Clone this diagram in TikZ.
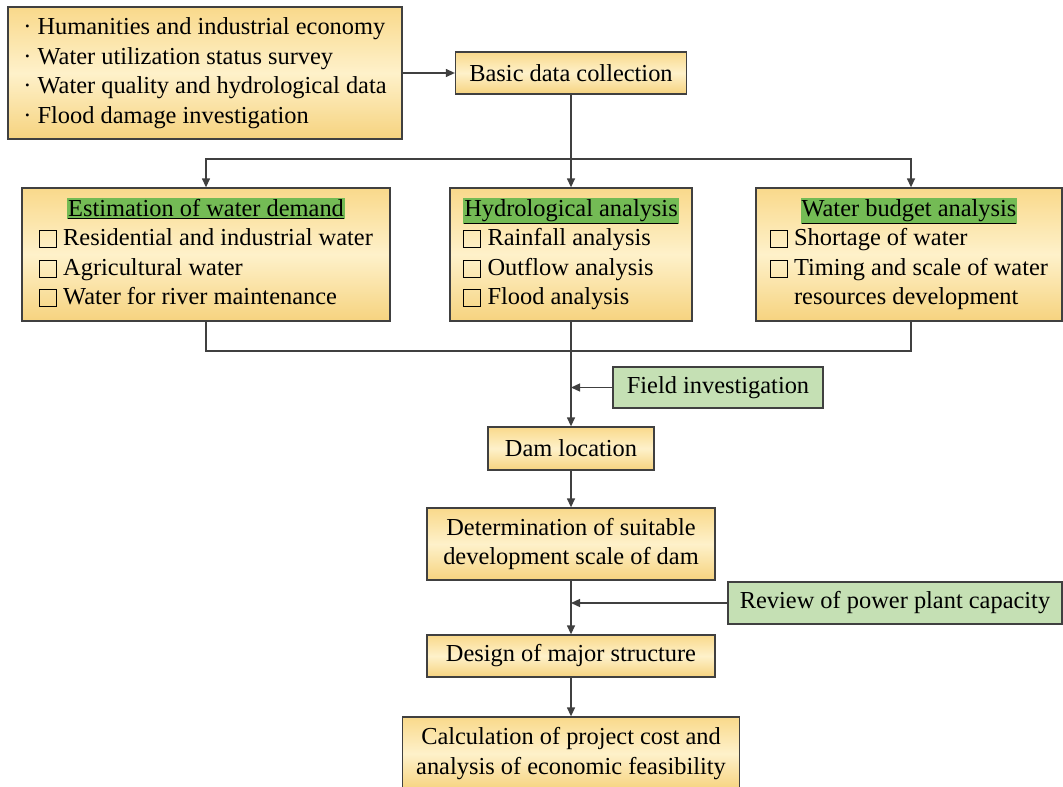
\documentclass[tikz,border=0pt]{standalone}
\usepackage{fontspec}
\setmainfont{Liberation Serif}
\usetikzlibrary{arrows.meta}
\definecolor{lncol}{HTML}{404040}
\definecolor{ytop}{HTML}{F9D98B}
\definecolor{ymid}{HTML}{FEF1CA}
\definecolor{ybot}{HTML}{F6D37F}
\definecolor{gfill}{HTML}{C5E0B4}
\definecolor{hl}{HTML}{74BB55}
\newcommand\hd[1]{{\setlength\fboxsep{0.8pt}\colorbox{hl}{\underline{#1}}}}
\newcommand\cbx{{\setlength\fboxsep{0pt}\setlength\fboxrule{1pt}\raisebox{-1.5pt}{\fbox{\rule{0pt}{16pt}\rule{16pt}{0pt}}}}}
\begin{document}
\begin{tikzpicture}[x=1pt,y=-1pt,
  txt/.style={font=\fontsize{24.4}{29.5}\selectfont, align=center, inner sep=0pt},
  box/.style={txt, draw=lncol, line width=1.3pt, top color=ytop, bottom color=ybot, middle color=ymid},
  gbox/.style={txt, draw=lncol, line width=1.3pt, fill=gfill},
  wire/.style={draw=lncol, line width=1.3pt},
  arr/.style={wire, -{Triangle[length=9pt,width=8pt]}}]
\useasboundingbox (0,0) rectangle (1063,787);
\clip (0,0) rectangle (1063,787);

\node[box, minimum width=394pt, minimum height=132pt] (src) at (205,73)
  {\begin{tabular}{@{}l@{}}· Humanities and industrial economy\\ · Water utilization status survey\\ · Water quality and hydrological data\\ · Flood damage investigation\end{tabular}};
\node[box, minimum width=231pt, minimum height=42pt] (basic) at (571,73) {Basic data collection};

\node[box, minimum width=368pt, minimum height=133pt] (est) at (206,254.5)
  {\begin{tabular}{@{}l@{}}\multicolumn{1}{@{}c@{}}{\hd{Estimation of water demand}}\\ \cbx\ Residential and industrial water\\ \cbx\ Agricultural water\\ \cbx\ Water for river maintenance\end{tabular}};
\node[box, minimum width=242pt, minimum height=133pt] (hyd) at (571,254.5)
  {\begin{tabular}{@{}l@{}}\multicolumn{1}{@{}c@{}}{\hd{Hydrological analysis}}\\ \cbx\ Rainfall analysis\\ \cbx\ Outflow analysis\\ \cbx\ Flood analysis\end{tabular}};
\node[box, minimum width=306pt, minimum height=133pt] (wb) at (909,254.5)
  {\begin{tabular}{@{}l@{}}\multicolumn{1}{@{}c@{}}{\hd{Water budget analysis}}\\ \cbx\ Shortage of water\\ \cbx\ Timing and scale of water\\ \phantom{\cbx\ }resources development\end{tabular}};

\node[gbox, minimum width=210pt, minimum height=41pt] (field) at (718,387.5) {Field investigation};
\node[box, minimum width=166pt, minimum height=43pt] (dam) at (571,448.5) {Dam location};
\node[box, minimum width=288pt, minimum height=72pt] (det) at (571,544) {Determination of suitable\\development scale of dam};
\node[gbox, minimum width=334pt, minimum height=42pt] (review) at (895,603) {Review of power plant capacity};
\node[box, minimum width=288pt, minimum height=42pt] (design) at (571,656) {Design of major structure};
\node[box, minimum width=337pt, minimum height=73pt] (calc) at (571,753.5) {Calculation of project cost and\\analysis of economic feasibility};

\coordinate (j1) at (571,159);
\coordinate (j2) at (571,351);
\draw[arr] (src.east) -- (src.east -| basic.west);
\draw[wire] (basic.south) -- (j1);
\draw[arr] (j1) -| (est.north);
\draw[arr] (j1) -- (hyd.north);
\draw[arr] (j1) -| ([xshift=2pt]wb.north);
\draw[wire] (est.south) |- (j2) -| ([xshift=2pt]wb.south);
\draw[arr] (hyd.south) -- (dam.north);
\draw[arr] (field.west) -- (field.west -| hyd.south);
\draw[arr] (dam.south) -- (det.north);
\draw[arr] (det.south) -- (design.north);
\draw[arr] (review.west) -- (review.west -| det.south);
\draw[arr] (design.south) -- (calc.north);
\end{tikzpicture}
\end{document}
